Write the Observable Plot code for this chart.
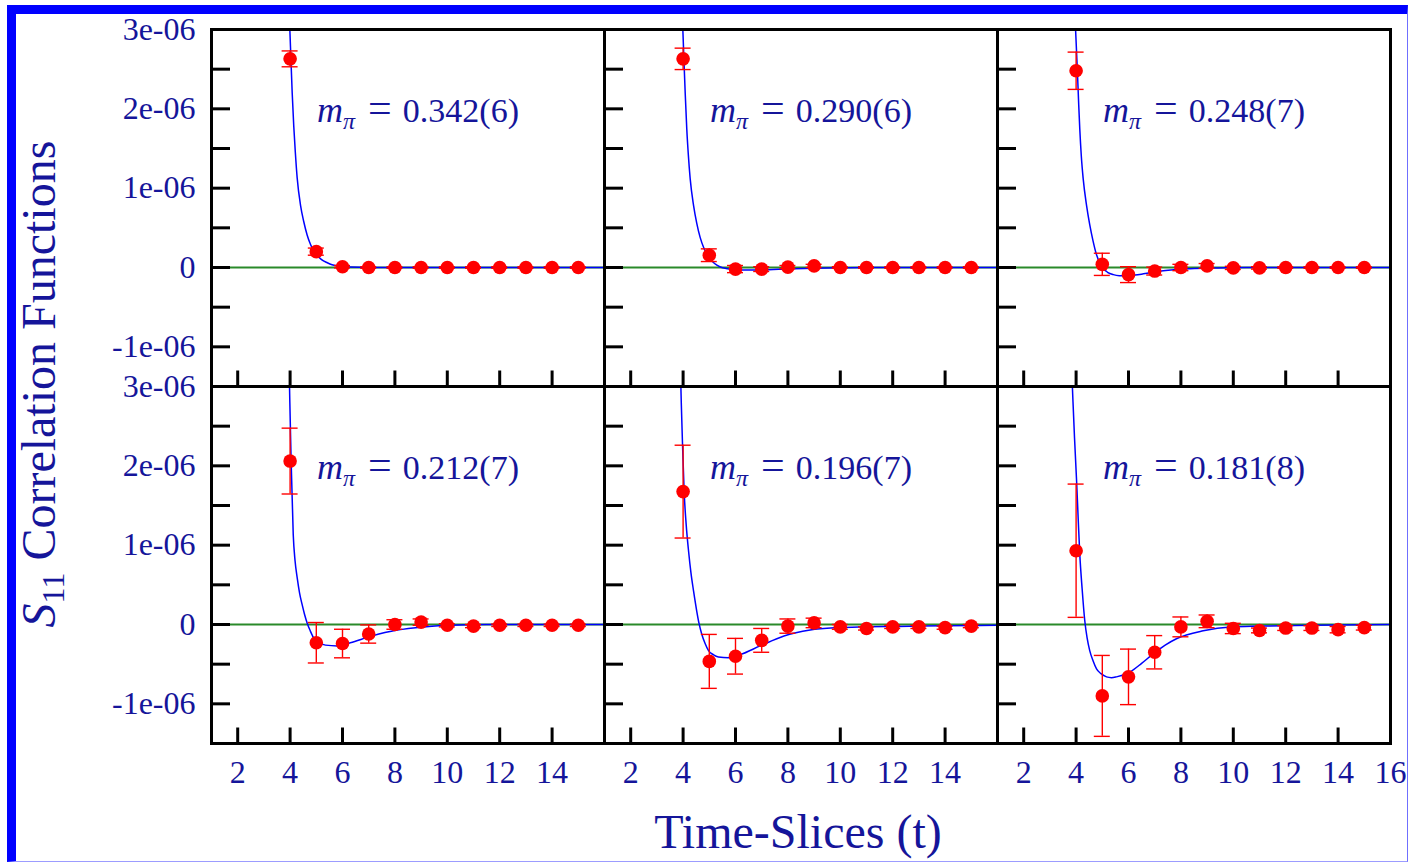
<!DOCTYPE html>
<html><head><meta charset="utf-8">
<script src="https://cdn.jsdelivr.net/npm/d3@7"></script>
<script src="https://cdn.jsdelivr.net/npm/@observablehq/plot@0.6"></script>
<style>
html,body{margin:0;padding:0;background:#fff;}
#wrap{position:relative;width:1409px;height:863px;overflow:hidden;background:#fff;}
#chart{position:absolute;left:0;top:0;}
#border{position:absolute;left:7px;top:5px;width:1401px;height:857px;box-sizing:border-box;
  border-top:9px solid #0000ff;border-left:9px solid #0000ff;border-right:1px solid #6f6fff;border-bottom:1px solid #9c9cff;pointer-events:none;}
</style></head><body>
<div id="wrap"><div id="chart"></div><div id="border"></div></div>
<script>
// ---------- data (values in units of 1e-6) ----------
const tSlices = [4, 5, 6, 7, 8, 9, 10, 11, 12, 13, 14, 15];
const panelMasses = ["0.342(6)", "0.290(6)", "0.248(7)", "0.212(7)", "0.196(7)", "0.181(8)"];

const values1 = [2.63, 0.20, 0.01, 0.00, 0.00, 0.00, 0.00, 0.00, 0.00, 0.00, 0.00, 0.00];
const errors1 = [0.10, 0.045, 0.015, 0.01, 0.01, 0.01, 0.01, 0.01, 0.01, 0.01, 0.01, 0.01];
const values2 = [2.63, 0.155, -0.02, -0.02, 0.005, 0.02, 0.0, 0.0, 0.0, 0.0, 0.0, 0.0];
const errors2 = [0.135, 0.08, 0.045, 0.03, 0.02, 0.02, 0.01, 0.01, 0.01, 0.01, 0.01, 0.01];
const values3 = [2.48, 0.04, -0.09, -0.045, 0.0, 0.02, -0.005, -0.005, 0.0, 0.0, 0.0, 0.0];
const errors3 = [0.235, 0.14, 0.10, 0.05, 0.04, 0.03, 0.02, 0.015, 0.01, 0.01, 0.01, 0.01];
const values4 = [2.06, -0.23, -0.24, -0.12, 0.0, 0.03, -0.01, -0.02, -0.01, -0.01, -0.01, -0.01];
const errors4 = [0.415, 0.255, 0.18, 0.115, 0.06, 0.04, 0.02, 0.02, 0.015, 0.015, 0.015, 0.015];
const values5 = [1.675, -0.465, -0.40, -0.20, -0.02, 0.02, -0.03, -0.05, -0.03, -0.03, -0.04, -0.02];
const errors5 = [0.585, 0.34, 0.225, 0.15, 0.09, 0.06, 0.03, 0.02, 0.02, 0.02, 0.02, 0.02];
const values6 = [0.93, -0.90, -0.66, -0.35, -0.03, 0.04, -0.05, -0.075, -0.045, -0.045, -0.065, -0.04];
const errors6 = [0.84, 0.51, 0.35, 0.21, 0.125, 0.08, 0.065, 0.03, 0.03, 0.03, 0.04, 0.03];

// fit curves: [t, value]
const fit1 = [[3.94,3.3],[3.99,3.0],[4.03,2.64],[4.08,2.2],[4.14,1.78],[4.2,1.45],[4.27,1.13],[4.4,0.78],[4.52,0.58],[4.65,0.41],[4.78,0.29],[4.9,0.21],[5.03,0.155],[5.2,0.1],[5.42,0.06],[5.6,0.035],[5.8,0.02],[6.3,0.005],[7,0.0],[16,0.0]];
const fit2 = [[3.94,3.3],[3.99,3.0],[4.03,2.63],[4.08,2.2],[4.14,1.75],[4.2,1.42],[4.27,1.12],[4.4,0.78],[4.52,0.56],[4.65,0.38],[4.8,0.24],[5.0,0.12],[5.2,0.05],[5.4,0.01],[5.7,-0.015],[6.2,-0.03],[7,-0.03],[8,-0.018],[9,-0.008],[10,-0.003],[11,0.0],[16,0.0]];
const fit3 = [[3.93,3.3],[3.98,3.0],[4.05,2.47],[4.1,2.05],[4.14,1.75],[4.2,1.4],[4.27,1.12],[4.4,0.78],[4.52,0.54],[4.65,0.33],[4.78,0.16],[4.9,0.06],[5.03,-0.01],[5.2,-0.06],[5.42,-0.09],[5.65,-0.103],[5.93,-0.105],[6.25,-0.095],[6.57,-0.08],[7.33,-0.04],[8.35,-0.015],[9.4,-0.005],[10.5,0.0],[16,0.0]];
const fit4 = [[3.96,3.3],[3.99,2.8],[4.04,2.05],[4.12,1.13],[4.19,0.8],[4.27,0.59],[4.36,0.4],[4.46,0.25],[4.55,0.13],[4.65,0.02],[4.77,-0.08],[4.9,-0.17],[5.1,-0.23],[5.35,-0.26],[5.8,-0.27],[6.3,-0.23],[7.07,-0.15],[8.09,-0.07],[9.1,-0.03],[10.1,-0.01],[11.5,0.0],[16,0.0]];
const fit5 = [[3.9,3.2],[3.93,2.8],[3.98,2.25],[4.04,1.675],[4.12,1.25],[4.21,0.92],[4.3,0.65],[4.4,0.42],[4.52,0.17],[4.61,0.01],[4.71,-0.12],[4.84,-0.24],[4.97,-0.33],[5.15,-0.38],[5.35,-0.41],[5.73,-0.42],[6.18,-0.38],[6.94,-0.27],[7.85,-0.145],[8.85,-0.07],[9.9,-0.04],[10.9,-0.03],[12.2,-0.025],[14,-0.015],[16,-0.01]];
const fit6 = [[3.82,3.3],[3.86,2.98],[3.94,2.35],[4.02,1.8],[4.08,1.33],[4.14,0.89],[4.23,0.45],[4.33,0.05],[4.42,-0.17],[4.52,-0.33],[4.65,-0.46],[4.78,-0.56],[4.95,-0.62],[5.16,-0.66],[5.35,-0.67],[5.54,-0.66],[6.05,-0.6],[6.5,-0.49],[6.94,-0.37],[7.4,-0.26],[7.83,-0.18],[8.85,-0.08],[9.9,-0.03],[11,-0.02],[13,-0.01],[16,0.0]];

const yTicks = [-1e-6, 0, 1e-6, 2e-6, 3e-6];
const yTickLabels = ["-1e-06", "0", "1e-06", "2e-06", "3e-06"];
const yTickMarks = [-1e-6, -0.5e-6, 0, 0.5e-6, 1e-6, 1.5e-6, 2e-6, 2.5e-6];
const xTickMarks = [2, 4, 6, 8, 10, 12, 14];
const xTickLabelsInner = [2, 4, 6, 8, 10, 12, 14];
const xTickLabelsRight = [2, 4, 6, 8, 10, 12, 14, 16];
const labelT = 5.03, labelV = 1.83e-6;

// ---------- build tables ----------
const panelValues = [values1, values2, values3, values4, values5, values6];
const panelErrors = [errors1, errors2, errors3, errors4, errors5, errors6];
const panelFits = [fit1, fit2, fit3, fit4, fit5, fit6];
const points = [], fits = [], labels = [];
panelMasses.forEach((m, p) => {
  const col = p % 3, row = Math.floor(p / 3);
  tSlices.forEach((t, i) => points.push({col, row, t, v: panelValues[p][i] * 1e-6, e: panelErrors[p][i] * 1e-6}));
  panelFits[p].forEach(([t, v]) => fits.push({col, row, t, v: v * 1e-6}));
  labels.push({col, row, t: labelT, v: labelV, text: m});
});
const xLabelRows = [];
[xTickLabelsInner, xTickLabelsInner, xTickLabelsRight].forEach((arr, col) =>
  arr.forEach(t => xLabelRows.push({col, row: 1, t, text: String(t)})));

// ---------- layout ----------
const W = 1409, H = 863, ML = 211, MR = 19, MT = 28, MB = 120;
const panelW = (W - ML - MR) / 3, panelH = (H - MT - MB) / 2;
const textColor = "#15159a";
const green = "#2a8a2a";

const chart = Plot.plot({
  width: W, height: H,
  marginLeft: ML, marginRight: MR, marginTop: MT, marginBottom: MB,
  x: {domain: [1, 16], axis: null},
  y: {domain: [-1.5e-6, 3e-6]},
  fx: {domain: [0, 1, 2], padding: 0, axis: null},
  fy: {domain: [0, 1], padding: 0, axis: null},
  style: {fontFamily: "'Liberation Serif', serif", fontSize: "32px", color: textColor, background: "#fff"},
  marks: [
    Plot.ruleY([0], {stroke: green, strokeWidth: 1.8}),
    Plot.tickY(yTickMarks, {y: d => d, insetRight: panelW - 19, stroke: "black", strokeWidth: 3}),
    Plot.tickX(xTickMarks, {x: d => d, insetTop: panelH - 16, stroke: "black", strokeWidth: 3}),
    Plot.line(fits, {x: "t", y: "v", fx: "col", fy: "row", stroke: "#0000ff", strokeWidth: 1.5, curve: "monotone-x", clip: true}),
    Plot.ruleX(points, {x: "t", y1: d => d.v - d.e, y2: d => d.v + d.e, fx: "col", fy: "row", stroke: "#ff0000", strokeWidth: 1.4}),
    Plot.ruleY(points, {y: d => d.v + d.e, x1: "t", x2: "t", insetLeft: -8, insetRight: -8, fx: "col", fy: "row", stroke: "#ff0000", strokeWidth: 1.4}),
    Plot.ruleY(points, {y: d => d.v - d.e, x1: "t", x2: "t", insetLeft: -8, insetRight: -8, fx: "col", fy: "row", stroke: "#ff0000", strokeWidth: 1.4}),
    Plot.dot(points, {x: "t", y: "v", fx: "col", fy: "row", r: 6.8, fill: "#ff0000"}),
    Plot.text(labels, {x: "t", y: "v", fx: "col", fy: "row", text: "text", textAnchor: "start", lineAnchor: "bottom", fontSize: 34, fill: textColor}),
    Plot.axisY(yTicks, {tickSize: 0, tickPadding: 16, tickFormat: d => yTickLabels[yTicks.indexOf(d)], label: null, color: textColor, fontSize: 32}),
    Plot.text(xLabelRows, {x: "t", fx: "col", fy: "row", text: "text", frameAnchor: "bottom", lineAnchor: "bottom", dy: 39, fontSize: 32, fill: textColor}),
    Plot.frame({stroke: "black", strokeWidth: 3})
  ]
});
document.getElementById("chart").appendChild(chart);

// ---------- typeset m_pi labels ----------
const svg = chart.tagName.toLowerCase() === "svg" ? chart : chart.querySelector("svg");
const ns = "http://www.w3.org/2000/svg";
Array.from(svg.querySelectorAll("text")).filter(el => panelMasses.includes(el.textContent)).forEach(el => {
  const num = el.textContent;
  el.textContent = "";
  const mk = (txt, attrs) => { const s = document.createElementNS(ns, "tspan"); for (const k in attrs) s.setAttribute(k, attrs[k]); s.textContent = txt; el.appendChild(s); };
  mk("m", {"font-style": "italic", "font-size": "36px"});
  mk("π", {"font-style": "italic", "font-size": "24px", dy: "7"});
  mk("=", {dy: "-7", dx: "13", "font-size": "42px"});
  mk(num, {dx: "11"});
});

// ---------- axis titles ----------
const s = d3.select(svg);
const yl = s.append("text").attr("transform", "translate(55,384) rotate(-90)")
  .attr("text-anchor", "middle").attr("font-size", 48).attr("fill", textColor);
yl.append("tspan").attr("font-style", "italic").text("S");
yl.append("tspan").attr("font-size", 32).attr("dy", 9).text("11");
yl.append("tspan").attr("dy", -9).text(" Correlation Functions");
s.append("text").attr("x", 798).attr("y", 848).attr("text-anchor", "middle")
  .attr("font-size", 48).attr("fill", textColor).text("Time-Slices (t)");
</script>
</body></html>
